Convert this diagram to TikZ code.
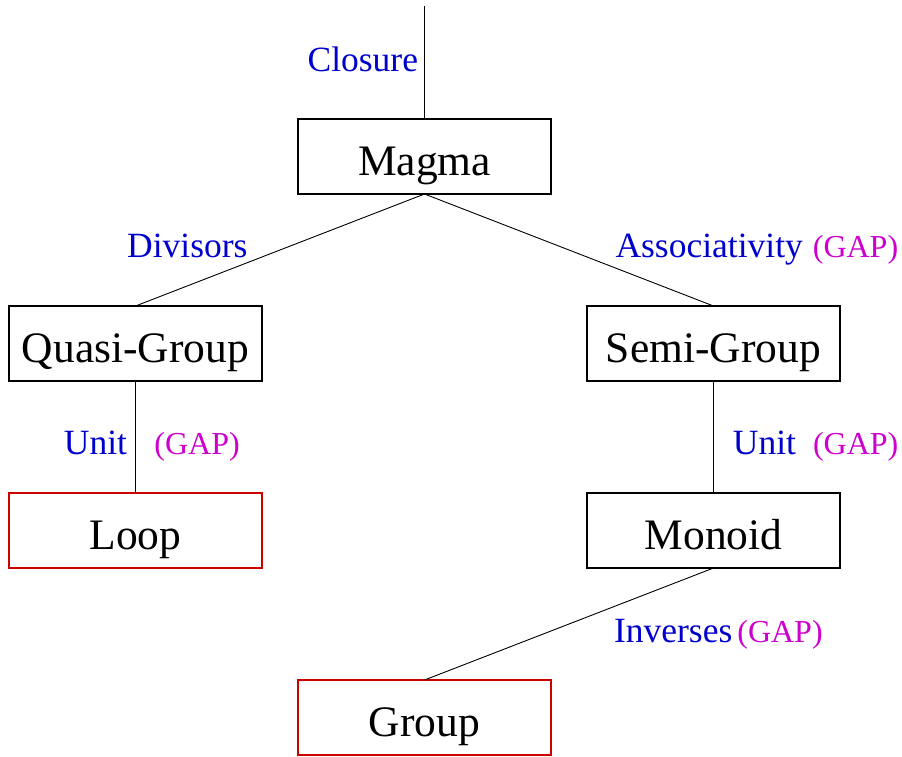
\documentclass[tikz,border=0pt]{standalone}
\usepackage{fontspec}
\setmainfont{Liberation Serif}
\usepackage{xcolor}
\usetikzlibrary{positioning}
\definecolor{lblblue}{HTML}{0000CD}
\definecolor{gapmag}{HTML}{CD00CD}
\definecolor{boxred}{HTML}{CD0000}
\newcommand{\gaptag}{{\color{gapmag}\fontsize{32}{38}\selectfont(GAP)}}

\begin{document}
\begin{tikzpicture}[x=1pt,y=-1pt, node distance=112pt and 36pt,
algebra/.style={draw,line width=1.3pt,minimum width=253pt,minimum height=75pt,inner sep=0pt,outer sep=0pt,
  font=\fontsize{43.5}{50}\selectfont,text height=46pt,text depth=9pt},
final/.style={algebra,draw=boxred},
prop/.style={inner sep=0pt,text=lblblue,font=\fontsize{35.5}{42}\selectfont},
link/.style={line width=0.9pt}]
\useasboundingbox (0,0) rectangle (902,756);
\coordinate (top) at (424.5,6);
\node[algebra] (magma) at (424.5,156.5) {Magma};
\node[algebra,below left=of magma] (quasi) {Quasi-Group};
\node[algebra,below right=of magma] (semi) {Semi-Group};
\node[final,below=of quasi] (loop) {Loop};
\node[algebra,below=of semi] (monoid) {Monoid};
\node[final,below left=of monoid] (group) {Group};
\draw[link] (top) -- (magma)
  node[prop,pos=0.58,anchor=base east,xshift=-6pt] {Closure};
\draw[link] (magma.south) -- (quasi.north)
  node[prop,pos=0.5625,anchor=base east,xshift=-14pt] {Divisors};
\draw[link] (magma.south) -- (semi.north)
  node[prop,pos=0.5625,anchor=base west,xshift=28pt] {Associativity\hspace{10pt}\gaptag};
\draw[link] (quasi) -- (loop)
  node[prop,pos=0.66,anchor=base east,xshift=-8pt] {Unit}
  node[prop,pos=0.66,anchor=base west,xshift=18.5pt] {\gaptag};
\draw[link] (semi) -- (monoid)
  node[prop,pos=0.66,anchor=base west,xshift=19pt] {Unit\hspace{17pt}\gaptag};
\draw[link] (monoid.south) -- (group.north)
  node[prop,pos=0.664,anchor=base west,xshift=92pt] {Inverses\hspace{5pt}\gaptag};
\end{tikzpicture}
\end{document}
